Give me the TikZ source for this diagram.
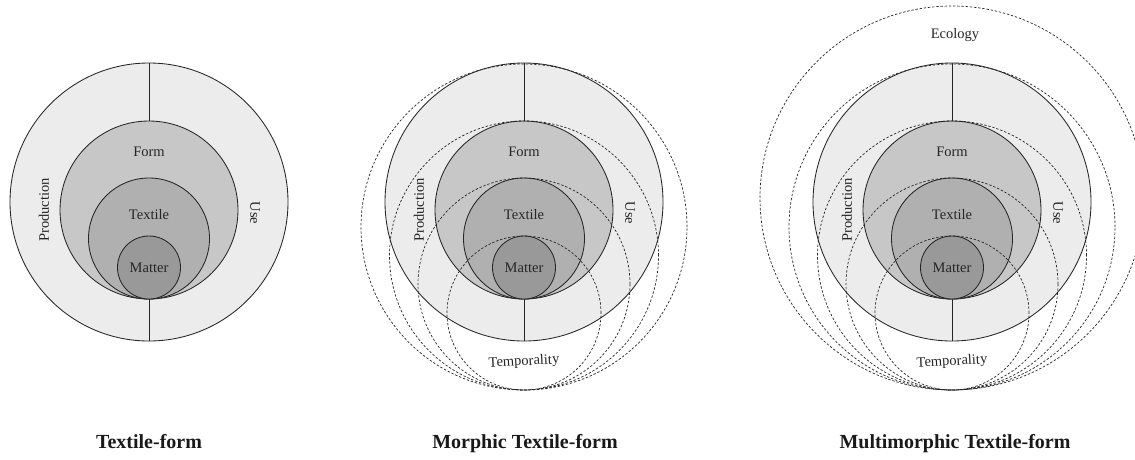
\documentclass[tikz,border=0pt]{standalone}
\usepackage{fontspec}
\setmainfont{Liberation Serif}
\definecolor{outerfill}{gray}{0.925}
\definecolor{formfill}{gray}{0.78}
\definecolor{textilefill}{gray}{0.69}
\definecolor{matterfill}{gray}{0.60}
\tikzset{
  ring/.style={draw=black!85, line width=0.85pt},
  dsh/.style={draw=black!85, line width=0.7pt, dash pattern=on 2.4pt off 1.8pt},
  lbl/.style={font=\fontsize{14.5}{17}\selectfont, text=black!85, inner sep=0pt},
  ttl/.style={font=\fontsize{20}{24}\selectfont\bfseries, text=black!90, inner sep=0pt, anchor=base},
}
% #1 = centre x, #2 = name prefix
\newcommand\basetf[2]{%
  \fill[outerfill] (#1,202) circle[radius=139pt];
  \draw[ring] (#1,202) circle[radius=139pt];
  \coordinate (#2top) at (#1,63);
  \coordinate (#2ftop) at (#1,121);
  \coordinate (#2tan) at (#1,299);
  \coordinate (#2bot) at (#1,341);
  \draw[ring] (#2top) -- (#2ftop);
  \draw[ring] (#2tan) -- (#2bot);
  \draw[ring, fill=formfill] (#1,210) circle[radius=89pt];
  \draw[ring, fill=textilefill] (#1,238.5) circle[radius=60.5pt];
  \draw[ring, fill=matterfill] (#1,267.5) circle[radius=31.5pt];
  \node[lbl] (#2form) at (#1,152) {Form};
  \node[lbl] (#2textile) at (#1,215) {Textile};
  \node[lbl] (#2matter) at (#1,268) {Matter};
  \node[lbl, rotate=90] (#2prod) at ([xshift=-105pt]#1,210) {Production};
  \node[lbl, rotate=-90] (#2use) at ([xshift=106pt]#1,213) {Use};
}
\newcommand\morphtf[2]{%
  \draw[dsh] (#1,227) circle[radius=163pt];
  \draw[dsh] (#1,255.5) circle[radius=134.5pt];
  \draw[dsh] (#1,284) circle[radius=106pt];
  \draw[dsh] (#1,313) circle[radius=77pt];
  \node[lbl, rotate=3] (#2temp) at (#1,362) {Temporality};
}
\begin{document}
\begin{tikzpicture}[x=1pt, y=-1pt]
  \useasboundingbox (0,0) rectangle (1135,459);
  \clip (0,0) rectangle (1135,459);
  % Textile-form
  \basetf{149}{a}
  \node[ttl] (atitle) at (149,448) {Textile-form};
  % Morphic Textile-form
  \basetf{524}{b}
  \morphtf{524}{b}
  \node[ttl] (btitle) at (525,448) {Morphic Textile-form};
  % Multimorphic Textile-form
  \basetf{952}{c}
  \morphtf{952}{c}
  \draw[dsh] (952,198) circle[radius=192pt];
  \node[lbl] (cecology) at (955,35) {Ecology};
  \node[ttl] (ctitle) at (955,448) {Multimorphic Textile-form};
\end{tikzpicture}
\end{document}
